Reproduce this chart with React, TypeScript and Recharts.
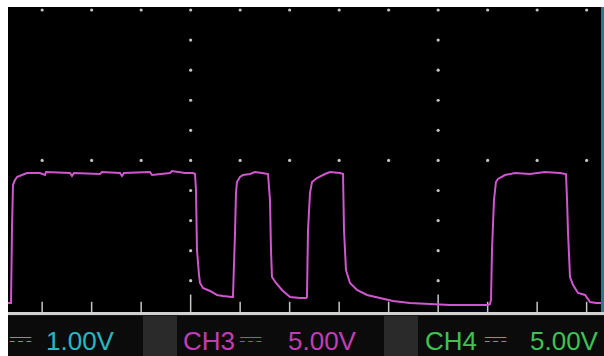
import React from "react";
import { LineChart, Line, XAxis, YAxis, ReferenceDot, ReferenceLine } from "recharts";

// time in horizontal divisions, CH3 voltage (5 V/div)
const timeDivs = [
  -0.69, -0.65, -0.629, -0.609, -0.589, -0.549, -0.508, -0.407, -0.306,
  -0.044, 0.057, 0.078, 0.563, 0.603, 0.643, 1.169, 1.209, 1.573, 1.613, 1.653,
  2.179, 2.219, 2.583, 2.623, 2.886, 3.047, 3.088, 3.108, 3.128, 3.169, 3.189,
  3.249, 3.391, 3.532, 3.653, 3.835, 3.855, 3.896, 3.916, 3.936, 3.997, 4.057,
  4.199, 4.3, 4.441, 4.563, 4.603, 4.623, 4.643, 4.724, 4.845, 5.007, 5.209,
  5.33, 5.35, 5.371, 5.411, 5.451, 5.552, 5.714, 5.815, 6.017, 6.078, 6.098,
  6.138, 6.219, 6.361, 6.563, 6.825, 7.088, 7.431, 7.835, 8.239, 8.643, 9.007,
  9.047, 9.068, 9.088, 9.128, 9.168, 9.209, 9.35, 9.552, 9.855, 10.158, 10.461,
  10.583, 10.604, 10.624, 10.664, 10.725, 10.826, 10.968, 11.069, 11.19, 11.29,
];
const ch3Volts = [
  1.3, 1.3, 1.3, 13.76, 20.91, 21.74, 22.24, 22.57, 22.91,
  22.91, 22.57, 23.07, 22.91, 22.41, 22.91, 22.74, 23.07, 22.91, 22.41, 22.91,
  23.07, 22.57, 22.91, 23.24, 22.91, 22.91, 22.74, 20.08, 10.11, 5.95, 4.62,
  3.79, 3.29, 2.63, 2.46, 2.29, 2.29, 12.93, 19.58, 21.41, 22.24, 22.57,
  22.74, 23.07, 22.91, 22.74, 18.42, 10.11, 5.62, 4.62, 3.46, 2.29, 2.13,
  2.13, 2.29, 13.43, 19.58, 21.41, 22.07, 22.74, 23.07, 22.91, 22.74, 13.43,
  6.78, 4.62, 3.46, 2.63, 2.13, 1.63, 1.3, 1.13, 0.96, 0.96, 0.96,
  1.13, 1.8, 10.11, 18.42, 21.41, 21.91, 22.57, 22.91, 22.74, 23.07, 22.91,
  22.74, 18.42, 12.93, 5.62, 4.29, 2.96, 2.63, 1.46, 1.3, 1.3,
];

const gridCols = [0, 1, 2, 3, 4, 5, 6, 7, 8, 9, 10, 11];
const gridRows = [50, 25];
const centerCols = [3, 8];
const centerColVolts = [5, 10, 15, 20, 30, 35, 40, 45];

const data = timeDivs.map((t, i) => ({ t, v: ch3Volts[i] }));

const dotColor = "#c4c4c4";
const symFont = "DejaVu Sans";

function StatusBar() {
  return (
    <svg width={596} height={40} style={{ position: "absolute", left: 8, top: 316 }}>
      <rect x={0} y={0} width={596} height={40} fill="#0b0b0b" />
      <rect x={135} y={0} width={34} height={40} fill="#2a2a2a" />
      <rect x={376} y={0} width={34} height={40} fill="#2a2a2a" />
      <g fontFamily="Liberation Sans, Arial, sans-serif" fontSize={26}>
        <text x={1} y={32} fill="#25b9c2" fontFamily={symFont} fontSize={29}>⎓</text>
        <text x={38} y={34} fill="#25b9c2">1.00V</text>
        <text x={175} y={34} fill="#c23db5">CH3</text>
        <text x={231} y={32} fill="#c23db5" fontFamily={symFont} fontSize={29}>⎓</text>
        <text x={280} y={34} fill="#c23db5">5.00V</text>
        <text x={417} y={34} fill="#3fc252">CH4</text>
        <text x={476} y={32} fill="#3fc252" fontFamily={symFont} fontSize={29}>⎓</text>
        <text x={522} y={34} fill="#3fc252">5.00V</text>
      </g>
    </svg>
  );
}

export default function App() {
  return (
    <div style={{ position: "absolute", left: 0, top: 0, width: 604, height: 356, background: "#ffffff", overflow: "hidden" }}>
      <div style={{ position: "absolute", left: 8, top: 7, width: 593, height: 305, background: "#000000" }} />
      <div style={{ position: "absolute", left: 601, top: 7, width: 3, height: 309, background: "#1c7f8e" }} />
      <div style={{ position: "absolute", left: 8, top: 312, width: 596, height: 3, background: "#d2d2d2" }} />
      <div style={{ position: "absolute", left: 8, top: 315, width: 596, height: 1, background: "#1a1a1a" }} />
      <div style={{ position: "absolute", left: 8, top: 7 }}>
        <LineChart width={593} height={305} data={data} margin={{ top: 0, right: 0, bottom: 0, left: 0 }}>
          <XAxis dataKey="t" type="number" domain={[-0.69, 11.29]} hide allowDataOverflow />
          <YAxis type="number" domain={[-0.2, 50.5]} hide allowDataOverflow />
          {gridRows.map((r) =>
            gridCols.map((c) => (
              <ReferenceDot key={`d${r}-${c}`} x={c} y={r} r={1.6} fill={dotColor} stroke="none" ifOverflow="visible" />
            ))
          )}
          {centerCols.map((c) =>
            centerColVolts.map((v) => (
              <ReferenceDot key={`c${c}-${v}`} x={c} y={v} r={1.6} fill={dotColor} stroke="none" ifOverflow="visible" />
            ))
          )}
          {gridCols.map((c) => (
            <ReferenceLine
              key={`tk${c}`}
              segment={[
                { x: c, y: -0.2 },
                { x: c, y: centerCols.includes(c) ? 2.7 : 1.5 },
              ]}
              stroke={dotColor}
              strokeWidth={1.5}
              ifOverflow="visible"
            />
          ))}
          <Line type="linear" dataKey="v" stroke="#cf56cf" strokeWidth={2} dot={false} isAnimationActive={false} />
        </LineChart>
      </div>
      <StatusBar />
    </div>
  );
}
